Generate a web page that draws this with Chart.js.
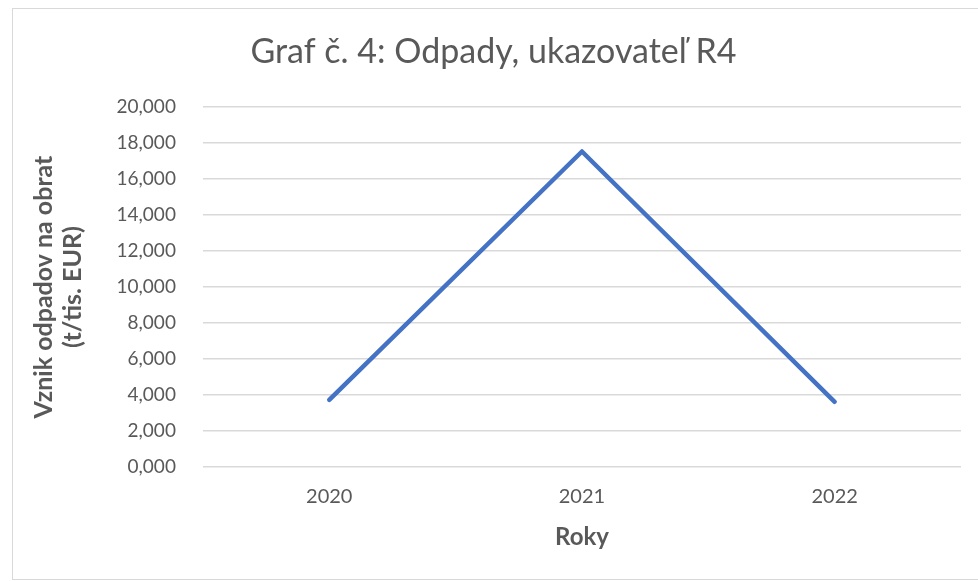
<!DOCTYPE html>
<html>
<head>
<meta charset="utf-8">
<script src="https://cdn.jsdelivr.net/npm/chart.js@4/dist/chart.umd.min.js"></script>
<style>
  html, body { margin: 0; padding: 0; background: #fff; overflow: hidden; }
  #box {
    position: absolute; left: 12px; top: 8px;
    width: 988px; height: 570px;
    border: 1px solid #d9d9d9;
  }
  #box canvas { display: block; }
</style>
</head>
<body>
<div id="box"><canvas id="chart" width="988" height="570"></canvas></div>
<script>
const years = ['2020', '2021', '2022'];
const r4Values = [3.74, 17.52, 3.63];
const yTicks = [0, 2, 4, 6, 8, 10, 12, 14, 16, 18, 20];

const textColor = '#595959';
const gridColor = '#d9d9d9';
const font = "Lato, 'Open Sans', sans-serif";

// Slovak number format: decimal comma, three places
const fmt = v => v.toFixed(3).replace('.', ',');

new Chart(document.getElementById('chart'), {
  type: 'line',
  data: {
    labels: years,
    datasets: [{
      label: 'R4',
      data: r4Values,
      borderColor: '#4472c4',
      borderWidth: 4.5,
      pointRadius: 0,
      tension: 0,
      borderCapStyle: 'round',
      borderJoinStyle: 'round',
    }],
  },
  options: {
    responsive: false,
    animation: false,
    layout: { padding: { left: 13, right: 40, top: 0, bottom: 23 } },
    plugins: {
      legend: { display: false },
      tooltip: { enabled: false },
      title: {
        display: true,
        text: 'Graf č. 4: Odpady, ukazovateľ R4',
        color: textColor,
        font: { family: font, size: 34, weight: 'normal' },
        padding: { top: 23, bottom: 34 },
      },
    },
    scales: {
      x: {
        offset: true,
        grid: { display: false },
        border: { display: false },
        ticks: { color: textColor, font: { family: font, size: 20 }, padding: 9 },
        title: {
          display: true,
          text: 'Roky',
          color: textColor,
          font: { family: font, size: 24, weight: 'bold' },
          padding: { top: 6 },
        },
      },
      y: {
        min: 0,
        max: 20,
        afterBuildTicks(axis) { axis.ticks = yTicks.map(v => ({ value: v })); },
        grid: { color: gridColor, lineWidth: 1.5, drawTicks: false },
        border: { display: false },
        ticks: {
          color: textColor,
          font: { family: font, size: 19 },
          padding: 27,
          callback: v => fmt(v),
        },
        title: {
          display: true,
          text: ['Vznik odpadov na obrat', '(t/tis. EUR)'],
          color: textColor,
          font: { family: font, size: 25, weight: 'bold', lineHeight: 1.15 },
          padding: { bottom: 2 },
        },
      },
    },
  },
});
</script>
</body>
</html>
